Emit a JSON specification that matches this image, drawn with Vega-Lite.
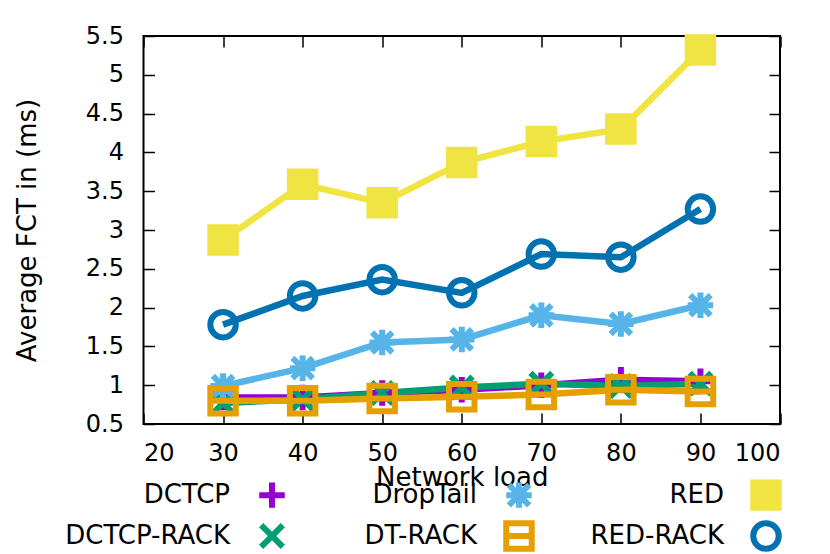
{
  "$schema": "https://vega.github.io/schema/vega-lite/v6.json",
  "width": 636.5,
  "height": 388,
  "autosize": "none",
  "padding": {"left": 143.5, "top": 36, "right": 50, "bottom": 130},
  "config": {
    "font": "DejaVu Sans",
    "view": {"stroke": "black", "strokeWidth": 2},
    "axis": {
      "grid": false,
      "domain": false,
      "tickColor": "black",
      "tickWidth": 1.5,
      "tickSize": -11,
      "labelFontSize": 24,
      "labelColor": "black",
      "titleFontSize": 26,
      "titleFontWeight": "normal",
      "titleColor": "black",
      "labelFont": "DejaVu Sans",
      "titleFont": "DejaVu Sans"
    }
  },
  "data": {
    "values": [
      {"series": "DCTCP", "load": 30, "fct": 0.84},
      {"series": "DCTCP", "load": 40, "fct": 0.84},
      {"series": "DCTCP", "load": 50, "fct": 0.90},
      {"series": "DCTCP", "load": 60, "fct": 0.94},
      {"series": "DCTCP", "load": 70, "fct": 1.00},
      {"series": "DCTCP", "load": 80, "fct": 1.07},
      {"series": "DCTCP", "load": 90, "fct": 1.05},
      {"series": "DCTCP-RACK", "load": 30, "fct": 0.77},
      {"series": "DCTCP-RACK", "load": 40, "fct": 0.82},
      {"series": "DCTCP-RACK", "load": 50, "fct": 0.90},
      {"series": "DCTCP-RACK", "load": 60, "fct": 0.97},
      {"series": "DCTCP-RACK", "load": 70, "fct": 1.02},
      {"series": "DCTCP-RACK", "load": 80, "fct": 0.99},
      {"series": "DCTCP-RACK", "load": 90, "fct": 1.02},
      {"series": "DropTail", "load": 30, "fct": 0.99},
      {"series": "DropTail", "load": 40, "fct": 1.22},
      {"series": "DropTail", "load": 50, "fct": 1.55},
      {"series": "DropTail", "load": 60, "fct": 1.59},
      {"series": "DropTail", "load": 70, "fct": 1.90},
      {"series": "DropTail", "load": 80, "fct": 1.79},
      {"series": "DropTail", "load": 90, "fct": 2.03},
      {"series": "DT-RACK", "load": 30, "fct": 0.80},
      {"series": "DT-RACK", "load": 40, "fct": 0.80},
      {"series": "DT-RACK", "load": 50, "fct": 0.83},
      {"series": "DT-RACK", "load": 60, "fct": 0.85},
      {"series": "DT-RACK", "load": 70, "fct": 0.88},
      {"series": "DT-RACK", "load": 80, "fct": 0.94},
      {"series": "DT-RACK", "load": 90, "fct": 0.92},
      {"series": "RED", "load": 30, "fct": 2.87},
      {"series": "RED", "load": 40, "fct": 3.59},
      {"series": "RED", "load": 50, "fct": 3.35},
      {"series": "RED", "load": 60, "fct": 3.87},
      {"series": "RED", "load": 70, "fct": 4.14},
      {"series": "RED", "load": 80, "fct": 4.30},
      {"series": "RED", "load": 90, "fct": 5.32},
      {"series": "RED-RACK", "load": 30, "fct": 1.78},
      {"series": "RED-RACK", "load": 40, "fct": 2.15},
      {"series": "RED-RACK", "load": 50, "fct": 2.36},
      {"series": "RED-RACK", "load": 60, "fct": 2.19},
      {"series": "RED-RACK", "load": 70, "fct": 2.69},
      {"series": "RED-RACK", "load": 80, "fct": 2.65},
      {"series": "RED-RACK", "load": 90, "fct": 3.27}
    ]
  },
  "encoding": {
    "x": {"field": "load", "type": "quantitative", "scale": {"domain": [20, 100], "nice": false, "zero": false}},
    "y": {"field": "fct", "type": "quantitative", "scale": {"domain": [0.5, 5.5], "nice": false, "zero": false}}
  },
  "layer": [
    {
      "mark": {"type": "line", "strokeWidth": 6.5, "strokeJoin": "miter"},
      "encoding": {
        "x": {"field": "load", "type": "quantitative", "axis": {"orient": "bottom", "values": [20, 30, 40, 50, 60, 70, 80, 90, 100], "title": "Network load", "labelPadding": 28, "titlePadding": -1}},
        "y": {"field": "fct", "type": "quantitative", "axis": {"orient": "left", "values": [0.5, 1, 1.5, 2, 2.5, 3, 3.5, 4, 4.5, 5, 5.5], "format": ".1~f", "title": "Average FCT in (ms)", "labelPadding": 31, "titlePadding": 45}},
        "color": {
          "field": "series", "type": "nominal", "legend": null,
          "scale": {
            "domain": ["DCTCP", "DCTCP-RACK", "DropTail", "DT-RACK", "RED", "RED-RACK"],
            "range": ["#9400d3", "#009e73", "#56b4e9", "#e69f00", "#f0e442", "#0072b2"]
          }
        }
      }
    },
    {
      "mark": {"type": "point", "filled": false, "strokeWidth": 6, "size": 650, "opacity": 1},
      "encoding": {
        "x": {"field": "load", "type": "quantitative", "axis": {"orient": "top", "values": [20, 30, 40, 50, 60, 70, 80, 90, 100], "labels": false, "title": null}},
        "y": {"field": "fct", "type": "quantitative", "axis": {"orient": "right", "values": [0.5, 1, 1.5, 2, 2.5, 3, 3.5, 4, 4.5, 5, 5.5], "labels": false, "title": null}},
        "stroke": {
          "field": "series", "type": "nominal",
          "scale": {
            "domain": ["DCTCP", "DropTail", "RED", "DCTCP-RACK", "DT-RACK", "RED-RACK"],
            "range": ["#9400d3", "#56b4e9", "#f0e442", "#009e73", "#e69f00", "#0072b2"]
          },
          "legend": {
            "title": null,
            "orient": "none",
            "legendX": -93.5,
            "legendY": 443,
            "columns": 3,
            "direction": "horizontal",
            "symbolSize": 650,
            "symbolStrokeWidth": 6,
            "symbolOffset": 206,
            "labelFontSize": 26,
            "labelFont": "DejaVu Sans",
            "labelColor": "black",
            "labelAlign": "right",
            "labelOffset": -58,
            "labelLimit": 400,
            "columnPadding": -6,
            "rowPadding": -23,
            "encode": {
              "entries": {"update": {"width": {"value": 237}, "height": {"value": 32}, "fill": {"value": "transparent"}}},
              "symbols": {
                "enter": {
                  "shape": {"signal": "datum.value === 'RED-RACK' ? 'M-1,0A1,1,0,1,1,1,0A1,1,0,1,1,-1,0ZM-1,0L1,0' : scale('shape', datum.value)"}
                },
                "update": {
                  "shape": {"signal": "datum.value === 'RED-RACK' ? 'M-1,0A1,1,0,1,1,1,0A1,1,0,1,1,-1,0ZM-1,0L1,0' : scale('shape', datum.value)"}
                }
              }
            }
          }
        },
        "fill": {
          "field": "series", "type": "nominal",
          "scale": {
            "domain": ["DCTCP", "DropTail", "RED", "DCTCP-RACK", "DT-RACK", "RED-RACK"],
            "range": ["transparent", "transparent", "#f0e442", "transparent", "transparent", "transparent"]
          }
        },
        "shape": {
          "field": "series", "type": "nominal",
          "scale": {
            "domain": ["DCTCP", "DropTail", "RED", "DCTCP-RACK", "DT-RACK", "RED-RACK"],
            "range": [
              "M-1,0L1,0M0,-1L0,1",
              "M-0.8,-0.8L0.8,0.8M-0.8,0.8L0.8,-0.8M-1,0L1,0M0,-1L0,1",
              "square",
              "M-0.85,-0.85L0.85,0.85M-0.85,0.85L0.85,-0.85",
              "M-1,-1L1,-1L1,1L-1,1ZM-1,0L1,0",
              "M-1,0A1,1,0,1,1,1,0A1,1,0,1,1,-1,0Z"
            ]
          }
        }
      }
    }
  ],
  "resolve": {"axis": {"x": "independent", "y": "independent"}}
}
